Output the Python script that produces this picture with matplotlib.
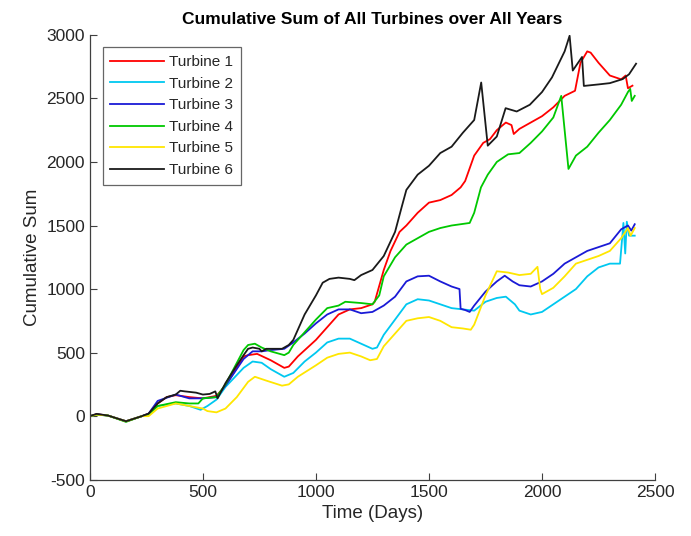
import matplotlib
matplotlib.use("Agg")
import matplotlib.pyplot as plt

plt.rcParams['font.family'] = ['Liberation Sans', 'DejaVu Sans']
plt.rcParams['axes.unicode_minus'] = False

# Turbine 1 (red)
t1_days = [0, 30, 80, 160, 230, 260, 300, 340, 380, 440, 500, 560, 600, 650, 680, 700, 740, 800, 860, 880, 920,
           1000, 1050, 1100, 1150, 1200, 1250, 1260, 1300, 1330, 1370, 1400, 1450, 1500, 1550, 1600, 1640, 1660,
           1700, 1740, 1770, 1800, 1840, 1865, 1875, 1900, 1950, 2000, 2050, 2100, 2146, 2170, 2200, 2215, 2250,
           2300, 2350, 2370, 2380, 2400]
t1_vals = [0, 15, 5, -40, 0, 20, 100, 150, 165, 150, 140, 160, 240, 380, 470, 480, 490, 440, 380, 390, 470,
           600, 700, 800, 840, 850, 880, 900, 1150, 1300, 1450, 1500, 1600, 1680, 1700, 1740, 1800, 1850,
           2050, 2150, 2180, 2250, 2310, 2290, 2220, 2260, 2310, 2360, 2430, 2520, 2560, 2780, 2870, 2860, 2780,
           2680, 2650, 2680, 2580, 2600]

# Turbine 2 (cyan)
t2_days = [0, 30, 80, 160, 230, 260, 300, 380, 440, 490, 520, 560, 600, 680, 720, 760, 800, 860, 900, 950,
           1000, 1050, 1100, 1150, 1200, 1250, 1270, 1300, 1350, 1400, 1450, 1500, 1550, 1600, 1650, 1700, 1750,
           1800, 1840, 1880, 1900, 1950, 2000, 2050, 2100, 2150, 2200, 2250, 2300, 2345, 2360, 2368, 2375, 2385,
           2410]
t2_vals = [0, 12, 5, -40, 0, 10, 80, 100, 80, 50, 80, 130, 230, 380, 430, 420, 370, 310, 340, 430,
           500, 580, 610, 610, 570, 530, 540, 640, 760, 880, 920, 910, 880, 850, 840, 830, 900,
           930, 940, 880, 830, 800, 820, 880, 940, 1000, 1100, 1170, 1200, 1200, 1520, 1280, 1530, 1420,
           1420]

# Turbine 3 (blue)
t3_days = [0, 30, 80, 160, 230, 260, 300, 380, 440, 500, 560, 600, 680, 720, 760, 800, 860, 900, 950,
           1000, 1050, 1100, 1150, 1200, 1250, 1300, 1350, 1400, 1450, 1500, 1550, 1600, 1635, 1640, 1660,
           1680, 1700, 1750, 1800, 1835, 1870, 1900, 1950, 2000, 2050, 2100, 2150, 2200, 2250, 2300, 2350,
           2380, 2395, 2410]
t3_vals = [0, 15, 5, -40, 0, 20, 120, 170, 140, 140, 150, 240, 450, 510, 510, 520, 530, 580, 650,
           730, 800, 840, 840, 810, 820, 870, 940, 1060, 1100, 1105, 1060, 1020, 1000, 845, 835,
           820, 870, 980, 1060, 1105, 1060, 1030, 1020, 1060, 1120, 1200, 1250, 1300, 1330, 1360, 1470,
           1500, 1460, 1510]

# Turbine 4 (green)
t4_days = [0, 30, 80, 160, 230, 260, 300, 380, 440, 480, 500, 560, 600, 680, 700, 730, 760, 800, 860, 880,
           900, 950, 1000, 1050, 1100, 1130, 1200, 1250, 1280, 1300, 1350, 1400, 1450, 1500, 1550, 1600, 1680,
           1700, 1730, 1760, 1800, 1850, 1900, 1950, 2000, 2050, 2085, 2117, 2150, 2200, 2250, 2300, 2350,
           2380, 2390, 2397, 2410]
t4_vals = [0, 12, 5, -45, 0, 15, 80, 110, 100, 100, 140, 150, 250, 520, 560, 570, 540, 510, 480, 500,
           560, 660, 760, 850, 870, 900, 890, 880, 950, 1100, 1250, 1350, 1400, 1450, 1480, 1500, 1520,
           1600, 1800, 1900, 2000, 2060, 2070, 2150, 2240, 2350, 2520, 1945, 2050, 2120, 2230, 2330, 2450,
           2550, 2575, 2480, 2520]

# Turbine 5 (yellow)
t5_days = [0, 30, 80, 160, 230, 260, 300, 380, 440, 500, 520, 560, 600, 650, 700, 730, 780, 850, 880, 920,
           1000, 1050, 1100, 1150, 1200, 1240, 1270, 1300, 1350, 1400, 1450, 1500, 1550, 1600, 1650, 1685,
           1700, 1750, 1800, 1850, 1900, 1950, 1980, 1992, 2000, 2050, 2100, 2150, 2200, 2250, 2300, 2350,
           2380, 2392, 2410]
t5_vals = [0, 12, 5, -40, 0, 0, 60, 100, 80, 60, 40, 30, 60, 150, 270, 310, 280, 240, 250, 310,
           400, 460, 490, 500, 470, 440, 450, 550, 650, 750, 770, 780, 750, 700, 690, 680,
           720, 950, 1140, 1130, 1110, 1120, 1175, 1000, 960, 1010, 1100, 1200, 1230, 1260, 1300, 1400,
           1480, 1420, 1480]

# Turbine 6 (black)
t6_days = [0, 30, 80, 160, 230, 260, 300, 340, 380, 400, 420, 470, 500, 530, 555, 565, 600, 650, 680, 700,
           720, 750, 760, 780, 850, 880, 900, 950, 1000, 1030, 1060, 1100, 1150, 1170, 1200, 1250, 1300, 1350,
           1380, 1400, 1450, 1500, 1550, 1600, 1650, 1700, 1731, 1760, 1800, 1839, 1888, 1946, 2000, 2044,
           2100, 2122, 2136, 2177, 2185, 2250, 2300, 2357, 2385, 2416]
t6_vals = [0, 18, 5, -40, 0, 20, 100, 150, 170, 200, 195, 185, 170, 175, 195, 140, 260, 400, 480, 530,
           540, 530, 510, 530, 530, 560, 600, 800, 950, 1050, 1080, 1090, 1080, 1070, 1110, 1150, 1260, 1450,
           1650, 1780, 1900, 1970, 2070, 2120, 2230, 2330, 2625, 2128, 2200, 2423, 2397, 2450, 2550, 2665,
           2870, 2993, 2719, 2826, 2598, 2610, 2620, 2652, 2690, 2773]

series = [
    ("Turbine 1", t1_days, t1_vals, "#ff0000"),
    ("Turbine 2", t2_days, t2_vals, "#00c8f0"),
    ("Turbine 3", t3_days, t3_vals, "#1a1ad6"),
    ("Turbine 4", t4_days, t4_vals, "#00c800"),
    ("Turbine 5", t5_days, t5_vals, "#ffe600"),
    ("Turbine 6", t6_days, t6_vals, "#1a1a1a"),
]

fig = plt.figure(figsize=(6.91, 5.36), dpi=100)
ax = fig.add_axes([0.130, 0.105, 0.818, 0.830])

for name, d, v, c in series:
    ax.plot(d, v, color=c, lw=1.3, label=name)

ax.set_xlim(0, 2500)
ax.set_ylim(-500, 3000)
ax.set_xticks([0, 500, 1000, 1500, 2000, 2500])
ax.set_yticks([-500, 0, 500, 1000, 1500, 2000, 2500, 3000])

for s in ['top', 'right']:
    ax.spines[s].set_visible(False)
for s in ['left', 'bottom']:
    ax.spines[s].set_color('#404040')
    ax.spines[s].set_linewidth(0.9)
ax.tick_params(direction='in', length=5, width=0.8, colors='#404040', labelsize=12.5, labelcolor='#262626')

ax.set_title("Cumulative Sum of All Turbines over All Years", fontsize=12.5, fontweight='bold', pad=8)
ax.set_xlabel("Time (Days)", fontsize=13.5, color='#262626')
ax.set_ylabel("Cumulative Sum", fontsize=13.5, color='#262626')

leg = ax.legend(loc='upper left', bbox_to_anchor=(0.023, 0.972), fontsize=11, frameon=True,
                fancybox=False, edgecolor='#404040', handlelength=3.5, handletextpad=0.35,
                labelspacing=0.5, borderpad=0.5, borderaxespad=0)
leg.get_frame().set_linewidth(0.9)
for t in leg.get_texts():
    t.set_color('#262626')

fig.savefig("out.png", dpi=100)
